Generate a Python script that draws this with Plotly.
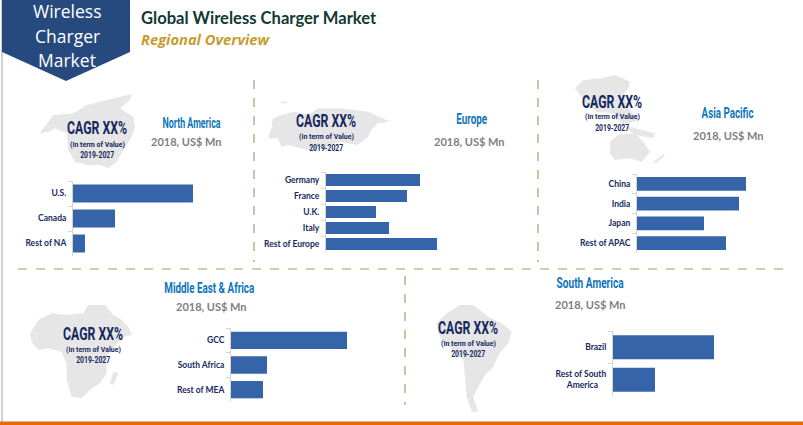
import json
import plotly.graph_objects as go

W, H = 803, 425

# ---- data (estimated, 2018 US$ Mn, arbitrary units)
na_cats = ["U.S.", "Canada", "Rest of NA"]
na_vals = [120, 42, 12]
eu_cats = ["Germany", "France", "U.K.", "Italy", "Rest of Europe"]
eu_vals = [94, 81, 50, 63, 111]
ap_cats = ["China", "India", "Japan", "Rest of APAC"]
ap_vals = [109, 102, 67, 89]
me_cats = ["GCC", "South Africa", "Rest of MEA"]
me_vals = [116, 36, 32]
sa_cats = ["Brazil", "Rest of South<br>America\u00a0\u00a0\u00a0\u00a0"]
sa_vals = [101, 42]

NAVY = "#15295e"
BAR = "#3565a8"
DASH = "#a89a6e"
MAPC = "#e6e6e6"
COND = "Roboto"

# target drawn widths for the condensed display lettering
condensed = {"CAGR XX%": 60, "(In term of Value)": 55, "2019-2027": 34, "North America": 58, "Europe": 31,
             "Asia Pacific": 52, "Middle East & Africa": 90, "South America": 67}

def px(x): return x / W
def py(y): return 1 - y / H

fig = go.Figure()
layout = dict(
    width=W, height=H, margin=dict(l=0, r=0, t=0, b=0),
    paper_bgcolor="white", plot_bgcolor="rgba(0,0,0,0)", showlegend=False,
    shapes=[], annotations=[], font=dict(family="Lato"),
)

panels = [
    (na_cats, na_vals, 73, 181, 256, 0.28),
    (eu_cats, eu_vals, 326, 172, 252, 0.26),
    (ap_cats, ap_vals, 637, 174, 253, 0.30),
    (me_cats, me_vals, 231, 328, 402, 0.30),
    (sa_cats, sa_vals, 613, 331, 396, 0.26),
]
SPAN = 150
for i, (cats, vals, x0, y0, y1, gap) in enumerate(panels, start=1):
    fig.add_trace(go.Bar(x=vals, y=cats, orientation="h", marker=dict(color=BAR, line=dict(width=0)),
                         width=1 - gap, xaxis=f"x{i}", yaxis=f"y{i}", hoverinfo="skip"))
    layout[f"xaxis{i}"] = dict(domain=[px(x0), px(x0 + SPAN)], range=[0, SPAN], visible=False,
                               anchor=f"y{i}", fixedrange=True)
    layout[f"yaxis{i}"] = dict(domain=[py(y1), py(y0)], anchor=f"x{i}", type="category",
                               autorange="reversed", tickson="boundaries", ticks="outside",
                               ticklen=4, tickcolor="#d4d4d4", showline=True, linecolor="#d4d4d4",
                               linewidth=1, showgrid=False, ticklabelstandoff=4,
                               tickfont=dict(family="Lato", size=8.5, color=NAVY, weight="bold"),
                               fixedrange=True)

def poly(points, color=MAPC, layer="below"):
    d = "M" + " L".join(f"{px(x):.5f},{py(y):.5f}" for x, y in points) + " Z"
    layout["shapes"].append(dict(type="path", path=d, xref="paper", yref="paper",
                                 fillcolor=color, line=dict(width=0), layer=layer))

def zpoly(ox, oy, pts, **kw):
    poly([(ox + a / 3, oy + b / 3) for a, b in pts], **kw)

def line(x0, y0, x1, y1, color=DASH, dash="dash", width=1.2):
    layout["shapes"].append(dict(type="line", xref="paper", yref="paper",
                                 x0=px(x0), y0=py(y0), x1=px(x1), y1=py(y1),
                                 line=dict(color=color, dash=dash, width=width)))

def text(s, x, y, size, color, family="Lato", anchor="center", weight="normal", style="normal"):
    layout["annotations"].append(dict(text=s, x=px(x), y=py(y), xref="paper", yref="paper",
                                      xanchor=anchor, yanchor="middle", showarrow=False,
                                      borderpad=0, borderwidth=0,
                                      font=dict(family=family, size=size, color=color,
                                                weight=weight, style=style)))

# region silhouettes
zpoly(20, 90, [(60,130),(85,95),(100,75),(160,70),(200,45),(260,30),(335,12),(330,30),(300,55),(340,80),(345,115),
               (330,150),(310,180),(290,215),(265,235),(240,225),(200,225),(165,215),(145,180),(140,130),(105,115),(85,125)])
zpoly(258, 95, [(40,100),(45,70),(70,60),(110,50),(150,60),(180,40),(250,40),(330,50),(395,80),(360,85),(340,105),
                (330,125),(300,150),(240,140),(200,160),(150,165),(90,150),(70,155),(60,130),(30,130)])
zpoly(258, 95, [(60,20),(90,20),(80,26)])
zpoly(25, 300, [(15,100),(40,60),(80,40),(120,45),(175,40),(190,15),(240,15),(265,45),(290,60),(310,80),(320,105),
                (295,110),(260,150),(245,165),(245,220),(225,250),(200,265),(170,295),(140,290),(125,240),(125,190),
                (110,155),(70,145),(40,150),(20,125)])
zpoly(25, 300, [(265,215),(280,220),(265,255),(255,250)])
zpoly(430, 300, [(20,70),(50,40),(90,15),(130,15),(175,50),(215,70),(245,95),(235,130),(205,165),(190,200),(165,225),
                 (145,260),(130,290),(145,335),(125,335),(110,290),(105,230),(100,180),(70,150),(40,130),(25,100)])
zpoly(555, 70, [(60,55),(85,30),(140,25),(180,15),(225,35),(220,55),(205,75),(225,120),(250,150),(205,165),(175,130),
                (125,125),(90,100),(75,75)])
zpoly(555, 70, [(205,165),(300,190),(295,205),(240,195)])
zpoly(555, 70, [(165,215),(190,195),(240,190),(265,215),(285,245),(260,275),(225,265),(180,270),(165,250)])
zpoly(555, 70, [(295,275),(330,250),(325,262),(300,280)])

# frame / decoration
line(2, 0, 2, 425, color="#d0d0d0", dash="solid", width=2)
layout["shapes"].append(dict(type="rect", xref="paper", yref="paper", x0=0, x1=1, y0=py(425), y1=py(421.5),
                             fillcolor="#e36c0a", line=dict(width=0)))
poly([(2,0),(130,0),(130,52),(66,81),(2,52)], color="#264a7e", layer="above")

line(254, 80, 254, 262)
line(538, 80, 538, 262)
line(18, 269, 785, 269)
line(405, 276, 405, 405)

# banner and titles
for s, y in zip(["Wireless", "Charger", "Market"], [11, 36, 60]):
    text(s, 67, y, 17.5, "white", family="Open Sans")
text("Global Wireless Charger Market", 141, 18, 16.6, "#0f3a33", family="Lato", anchor="left", weight="bold")
text("Regional Overview", 141, 39, 14.7, "#c69c2d", family="Open Sans", anchor="left", weight="bold", style="italic")

# CAGR blocks
for cx, a, b, c in [(97,128,144,155),(326,120,137,147.5),(612,101,117,127.5),(93,333,349,360),(468,327,343,354)]:
    text("CAGR XX%", cx, a, 18, NAVY, family=COND, weight="bold")
    text("(In term of Value)", cx, b, 8, NAVY, family=COND, weight="bold")
    text("2019-2027", cx, c, 8.5, NAVY, family=COND, weight="bold")

# region heads
for s, x, y, x2, y2 in [("North America",191,123,186,141),("Europe",472,119,469,141),("Asia Pacific",728,113,728,135),
                        ("Middle East &amp; Africa",209,288,211,306),("South America",590,283,590,304)]:
    text(s, x, y, 14.5, "#0f75bc", family=COND, weight="bold")
    text("2018, US$ Mn", x2, y2, 11, "#808080", family="Lato", weight="bold")

fig.update_layout(**layout)

post = """
document.body.style.margin='0';
var W_MAP = %s;
document.querySelectorAll('.annotation-text').forEach(function(t){
  var w = W_MAP[t.textContent];
  if (w) { t.setAttribute('textLength', w); t.setAttribute('lengthAdjust', 'spacingAndGlyphs'); }
});
""" % json.dumps(condensed)
fig.write_html("out.html", config=dict(displayModeBar=False), post_script=post)
